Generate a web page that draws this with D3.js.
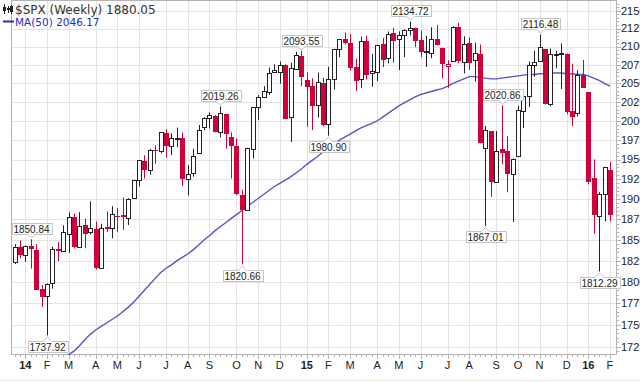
<!DOCTYPE html>
<html>
<head>
<meta charset="utf-8">
<title>$SPX Weekly</title>
<script src="https://cdn.jsdelivr.net/npm/d3@7"></script>
<style>
  html,body{margin:0;padding:0;background:#fff;}
  svg{display:block;}
</style>
</head>
<body>
<svg id="chart" width="640" height="382"></svg>
<script>
// weekly bars, week 0 = week ending 2013-12-27, last = 2016-02-05
const opens = [1822.9,1841.5,1832.3,1842.3,1837.9,1791.0,1782.7,1798.0,1838.8,1836.8,
  1857.7,1878.3,1841.1,1867.7,1859.2,1863.9,1816.0,1865.8,1864.2,1879.4,
  1880.0,1876.7,1902.0,1923.9,1948.0,1937.2,1962.9,1960.8,1984.2,1967.7,
  1976.9,1978.3,1926.0,1933.4,1958.4,1991.7,2004.1,2007.2,1986.0,2009.1,
  1979.0,1967.7,1905.7,1886.8,1963.0,2018.2,2032.0,2038.3,2065.1,2065.8,
  2074.8,2005.0,2069.3,2087.6,2054.4,2046.1,2020.8,2050.4,1996.7,2055.5,
  2096.5,2109.8,2105.2,2072.3,2055.4,2108.0,2064.1,2064.9,2102.9,2084.1,
  2119.3,2110.2,2115.6,2122.3,2125.3,2108.6,2092.3,2091.3,2110.6,2098.6,
  2074.0,2080.0,2126.8,2078.2,2104.5,2081.0,2089.7,1965.2,1986.7,1921.8,
  1963.1,1960.8,1932.2,1954.3,2013.7,2033.5,2075.1,2080.8,2096.6,2022.1,
  2089.4,2091.0,2090.4,2013.4,2010.3,2060.6,2038.2,1926.1,1878.9,1906.3,
  1936.9];
const highs = [1844.9,1849.4,1843.2,1850.84,1844.95,1796.0,1798.0,1841.7,1847.5,1867.9,
  1883.6,1882.4,1884.0,1875.9,1897.3,1872.5,1869.6,1884.9,1891.3,1889.1,
  1902.2,1901.3,1924.0,1949.4,1955.6,1963.9,1968.2,1985.6,1989.2,1983.9,
  1991.4,1984.9,1942.9,1964.0,1994.8,2005.0,2011.2,2008.0,2019.26,2009.1,
  1985.2,1977.4,1912.1,1965.3,2018.2,2034.3,2046.2,2071.5,2075.8,2079.5,
  2075.8,2077.9,2092.7,2093.55,2064.4,2056.9,2064.6,2057.6,2072.4,2097.0,
  2110.6,2119.6,2117.5,2083.5,2113.9,2114.9,2089.8,2102.6,2111.9,2120.9,
  2125.9,2121.0,2123.9,2134.72,2126.2,2121.9,2115.0,2126.7,2130.0,2098.6,
  2081.3,2128.5,2132.8,2114.2,2112.7,2105.4,2102.9,1993.5,1986.7,1986.8,
  2020.86,1980.0,1951.4,2020.1,2033.5,2079.7,2094.3,2116.48,2096.6,2097.1,
  2094.1,2104.3,2090.4,2076.7,2067.7,2081.6,2038.2,1950.3,1908.9,1940.2,
  1947.2];
const lows = [1821.0,1827.7,1823.7,1815.5,1790.3,1770.5,1737.92,1791.8,1824.6,1836.8,
  1834.4,1839.6,1841.1,1839.9,1856.7,1814.4,1815.8,1859.7,1851.9,1859.8,
  1862.4,1868.1,1902.0,1916.0,1925.8,1930.9,1944.7,1958.2,1952.9,1955.6,
  1965.8,1916.4,1904.8,1928.3,1958.4,1988.0,1990.1,1985.2,1978.5,1964.0,
  1926.0,1905.0,1820.66,1886.8,1951.4,2001.0,2030.2,2034.5,2065.1,2049.6,
  2002.3,1972.6,2069.3,2046.0,1992.4,1988.1,2004.5,1993.4,1980.90,2041.9,
  2085.4,2103.0,2067.3,2039.7,2044.0,2055.0,2045.5,2053.0,2072.1,2077.1,
  2077.9,2067.9,2085.6,2115.4,2099.2,2085.7,2072.1,2084.0,2101.3,2056.6,
  2044.0,2080.0,2077.3,2063.5,2067.9,2052.1,1970.9,1867.01,1903.1,1921.8,
  1944.0,1908.8,1871.9,1954.3,1990.7,2018.2,2058.8,2080.8,2022.0,2019.4,
  2070.3,2042.4,2008.8,1993.3,2005.9,2043.6,1918.5,1857.8,1812.29,1872.7,
  1872.7];
const closes = [1841.40,1831.37,1842.37,1838.70,1790.29,1782.59,1797.02,1838.63,1836.25,1859.45,
  1878.04,1841.13,1866.52,1857.62,1865.09,1815.69,1864.85,1863.40,1881.14,1878.48,
  1877.86,1900.53,1923.57,1949.44,1936.16,1962.87,1960.96,1985.44,1967.57,1978.22,
  1978.34,1925.15,1931.59,1955.06,1988.40,2003.37,2007.71,1985.54,2010.40,1982.85,
  1967.90,1906.13,1886.76,1964.58,2018.05,2031.92,2039.82,2063.50,2067.56,2075.37,
  2002.33,2070.65,2088.77,2058.20,2044.81,2019.42,2051.82,1994.99,2055.47,2096.99,
  2110.30,2104.50,2071.26,2053.40,2108.10,2061.02,2066.96,2102.06,2081.18,2117.69,
  2108.29,2116.10,2122.73,2126.06,2107.39,2092.83,2094.11,2109.99,2101.49,2076.78,
  2076.62,2126.64,2079.65,2103.84,2077.57,2091.54,1970.89,1988.87,1921.22,1961.05,
  1958.03,1931.34,1951.36,2014.89,2033.11,2075.15,2079.36,2099.20,2023.04,2089.17,
  2090.11,2091.69,2012.37,2005.55,2060.99,2043.94,1922.03,1880.33,1906.90,1940.24,
  1880.05];

// MA(50), starting at week 9
const maStart = 9;
const ma50 = [1712,1716,1720,1726,1733,1739,1744,1748,1752,1756,
  1760,1765,1770,1776,1783,1790,1797,1804,1811,1816,
  1820,1825,1829,1833,1838,1844,1850,1855,1861,1866,
  1871,1876,1881,1886,1891,1896,1901,1906,1911,1916,
  1920,1924,1928,1933,1938,1944,1949,1954,1960,1965,
  1970,1975,1979,1983,1987,1991,1994,1997,2000,2005,
  2010,2015,2020,2024,2028,2032,2035,2037,2039,2041,
  2043,2046,2050,2053,2056,2059,2059,2058,2057,2056,
  2056,2057,2058,2059,2060,2061,2062,2062,2063,2063,
  2064,2064,2064,2063,2063,2062,2062,2060,2057,2054,
  2050,2046.17];

const monthWeeks  = [2,6,10,15,19,23,28,32,36,41,45,49,54,58,62,67,71,75,80,84,89,93,97,102,106,110];
const monthLabels = ['14','F','M','A','M','J','J','A','S','O','N','D','15','F','M','A','M','J','J','A','S','O','N','D','16','F'];
const priceTicks = [1725,1750,1775,1800,1825,1850,1875,1900,1925,1950,1975,2000,2025,2050,2075,2100,2125,2150];

// annotated extremes
const markWeeks = [3,6,38,42,53,58,73,87,90,97,108];
const markSides = ['high','low','high','low','high','low','high','low','high','high','low'];

const RED = '#d0003a', INK = '#222', MA_COL = '#5555c8';
const pLeft = 11, pRight = 617, pTop = 0, pBottom = 355;

const svg = d3.select('#chart');
const x = d3.scaleLinear().domain([-0.65, 111.3]).range([pLeft, pRight]);
const y = d3.scaleLog().domain([1715.6, 2165.1]).range([pBottom, pTop]);

svg.append('defs').append('clipPath').attr('id','plot')
  .append('rect').attr('x',pLeft).attr('y',pTop).attr('width',pRight-pLeft).attr('height',pBottom-pTop);

// grid
const grid = svg.append('g').attr('stroke','#e3e3e3').attr('stroke-width',1);
grid.selectAll('.h').data(priceTicks).enter().append('line')
  .attr('x1',pLeft).attr('x2',pRight)
  .attr('y1',d=>Math.round(y(d))+0.5).attr('y2',d=>Math.round(y(d))+0.5);
grid.selectAll('.v').data(monthWeeks).enter().append('line')
  .attr('y1',pTop).attr('y2',pBottom)
  .attr('x1',d=>Math.round(x(d))+0.5).attr('x2',d=>Math.round(x(d))+0.5);

// frame
svg.append('rect').attr('x',pLeft+0.5).attr('y',pTop+0.5).attr('width',pRight-pLeft-1).attr('height',pBottom-pTop-1)
  .attr('fill','none').attr('stroke','#b4b4b4');
svg.append('line').attr('x1',0).attr('x2',640).attr('y1',380.5).attr('y2',380.5).attr('stroke','#ececec');

// minor ticks
const ticks = svg.append('g').attr('stroke','#b4b4b4');
ticks.selectAll('line.w').data(d3.range(closes.length)).enter().append('line')
  .attr('x1',i=>Math.round(x(i))+0.5).attr('x2',i=>Math.round(x(i))+0.5)
  .attr('y1',pBottom).attr('y2',pBottom+2);
ticks.selectAll('line.m').data(monthWeeks).enter().append('line')
  .attr('x1',i=>Math.round(x(i))+0.5).attr('x2',i=>Math.round(x(i))+0.5)
  .attr('y1',pBottom).attr('y2',pBottom+4);
ticks.selectAll('line.p').data(d3.range(1720,2165,5)).enter().append('line')
  .attr('x1',pRight).attr('x2',d=>d%25===0?pRight+4:pRight+2)
  .attr('y1',d=>Math.round(y(d))+0.5).attr('y2',d=>Math.round(y(d))+0.5);

// axis labels
svg.append('g').selectAll('text').data(priceTicks).enter().append('text')
  .attr('x',pRight+4).attr('y',d=>y(d)).attr('dy','0.35em')
  .attr('font-family','Liberation Sans, Arial, sans-serif').attr('font-size',11).attr('fill',INK)
  .text(d=>d);
svg.append('g').selectAll('text').data(monthWeeks).enter().append('text')
  .attr('x',i=>x(i)).attr('y',369).attr('text-anchor','middle')
  .attr('font-family','Liberation Sans, Arial, sans-serif').attr('font-size',11).attr('fill',INK)
  .attr('font-weight',(d,k)=>/\d/.test(monthLabels[k])?'bold':'normal')
  .text((d,k)=>monthLabels[k]);

// MA line
svg.append('path').attr('clip-path','url(#plot)')
  .datum(ma50)
  .attr('fill','none').attr('stroke',MA_COL).attr('stroke-width',1.4)
  .attr('d', d3.line().x((d,k)=>x(maStart+k)).y(d=>y(d)));

// candles
const bars = d3.range(closes.length).map(i=>({
  i, o:opens[i], h:highs[i], l:lows[i], c:closes[i],
  up: i===0 ? closes[i]>=opens[i] : closes[i]>=closes[i-1],
  hollow: closes[i]>=opens[i]
}));
const cg = svg.append('g').attr('clip-path','url(#plot)');
bars.forEach(b=>{
  const cx = Math.round(x(b.i));
  const col = b.up ? INK : RED;
  const yt = y(Math.max(b.o,b.c)), yb = y(Math.min(b.o,b.c));
  cg.append('line').attr('x1',cx+0.5).attr('x2',cx+0.5)
    .attr('y1',y(b.h)).attr('y2',y(b.l)).attr('stroke',col).attr('stroke-width',1);
  if (b.hollow) {
    cg.append('rect').attr('x',cx-1.5).attr('width',4)
      .attr('y',Math.round(yt)+0.5).attr('height',Math.max(1,Math.round(yb)-Math.round(yt)))
      .attr('fill','#fff').attr('stroke',col).attr('stroke-width',1);
  } else {
    cg.append('rect').attr('x',cx-2).attr('width',5)
      .attr('y',Math.round(yt)).attr('height',Math.max(1,Math.round(yb)-Math.round(yt)))
      .attr('fill',col);
  }
});

// extreme labels
const lg = svg.append('g');
markWeeks.forEach((w,k)=>{
  const isHigh = markSides[k]==='high';
  const v = isHigh ? highs[w] : lows[w];
  const cx = Math.round(x(w))+0.5;
  const tip = isHigh ? y(v)-1.5 : y(v)+1.5;
  const path = lg.append('path');
  const t = lg.append('text').attr('x',cx).attr('text-anchor','middle')
    .attr('font-family','Liberation Sans, Arial, sans-serif').attr('font-size',10).attr('fill',INK)
    .text(v.toFixed(2));
  const tw = t.node().getComputedTextLength();
  const bw = Math.round(tw+4), bh = 11, ph = 4;
  const x0 = Math.round(cx-bw/2)+0.5, x1 = x0+bw;
  let d, ty;
  if (isHigh) {
    const yb = Math.round(tip-ph)+0.5, yt = yb-bh;
    d = `M${x0},${yt}H${x1}V${yb}H${cx+4}L${cx},${tip}L${cx-4},${yb}H${x0}Z`;
    ty = (yt+yb)/2;
  } else {
    const yt = Math.round(tip+ph)+0.5, yb = yt+bh;
    d = `M${x0},${yt}H${cx-4}L${cx},${tip}L${cx+4},${yt}H${x1}V${yb}H${x0}Z`;
    ty = (yt+yb)/2;
  }
  path.attr('d',d).attr('fill','#fff').attr('stroke','#c4c4c4');
  t.attr('y',ty).attr('dy','0.36em');
});

// legend
const leg = svg.append('g');
const icon = leg.append('g').attr('fill',INK).attr('stroke',INK);
[[4,4,14,7,11],[8,6,13,8,10],[11,5,14,6,12]].forEach(([ix,a,b,c,e])=>{
  icon.append('line').attr('x1',ix+0.5).attr('x2',ix+0.5).attr('y1',a).attr('y2',b).attr('stroke-width',1);
  icon.append('rect').attr('x',ix-1).attr('y',c).attr('width',3).attr('height',e-c).attr('stroke','none');
});
leg.append('text').attr('x',15).attr('y',14)
  .attr('font-family','DejaVu Sans, sans-serif').attr('font-size',12).attr('fill','#333')
  .text('$SPX (Weekly) 1880.05');
leg.append('line').attr('x1',3).attr('x2',14).attr('y1',21.5).attr('y2',21.5)
  .attr('stroke','#2b2bb0').attr('stroke-width',2);
leg.append('text').attr('x',15).attr('y',25.5)
  .attr('font-family','DejaVu Sans, sans-serif').attr('font-size',10.5).attr('fill','#2b2bb0')
  .text('MA(50) ' + ma50[ma50.length-1].toFixed(2));
</script>
</body>
</html>
